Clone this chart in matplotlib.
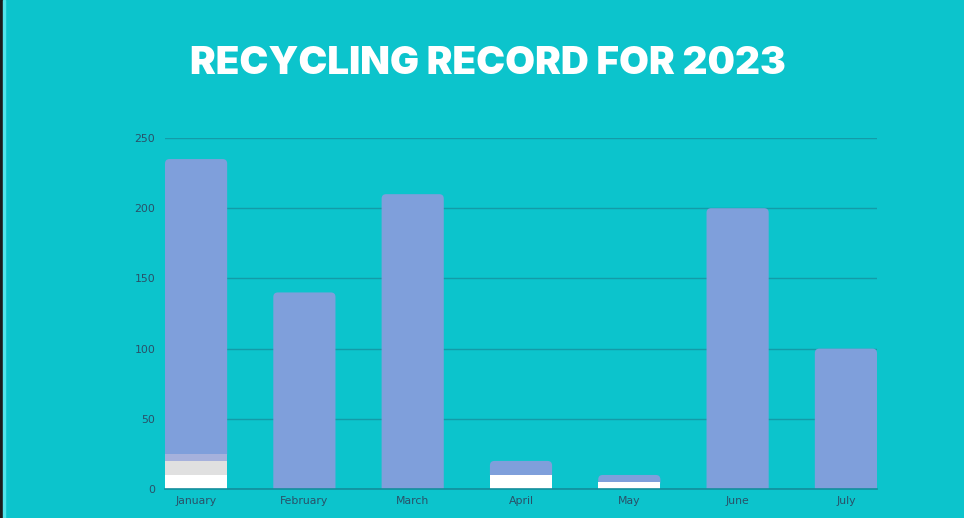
import numpy as np
import matplotlib
matplotlib.use("Agg")
import matplotlib.pyplot as plt
from matplotlib.patches import FancyBboxPatch, Rectangle

# data
months = ["January", "February", "March", "April", "May", "June", "July"]
white_part = [10, 0, 0, 10, 5, 0, 0]
grey_part = [10, 0, 0, 0, 0, 0, 0]
lavender_part = [5, 0, 0, 0, 0, 0, 0]
blue_part = [210, 140, 210, 10, 5, 200, 100]
y_ticks = [0, 50, 100, 150, 200, 250]

BG = "#0cc4cc"
BLUE = "#7f9fdb"
LAVENDER = "#a6b1dc"
GREY = "#e0e0e0"
WHITE = "#ffffff"
GRID = "#139ba8"
TXT = "#2a5068"

fig = plt.figure(figsize=(9.64, 5.18), dpi=100)
fig.patch.set_facecolor(BG)

# dark strip on the left edge
fig.patches.append(Rectangle((0, 0), 3 / 964, 1, transform=fig.transFigure,
                             color="#1b1b1b", zorder=10))
fig.patches.append(Rectangle((3 / 964, 0), 1.5 / 964, 1, transform=fig.transFigure,
                             color="#4fe3ea", zorder=10))

ax = fig.add_axes([165 / 964, 1 - 489 / 518, 712 / 964, 351 / 518])
ax.set_facecolor(BG)

x = np.arange(len(months))
width = 0.574
ax.set_xlim(-width / 2, len(months) - 1 + width / 2)
ax.set_ylim(0, 250)

# lower stacked segments
base = np.zeros(len(months))
for vals, col in [(white_part, WHITE), (grey_part, GREY), (lavender_part, LAVENDER)]:
    vals = np.array(vals, dtype=float)
    ax.bar(x, vals, width, bottom=base, color=col, zorder=3, linewidth=0)
    base = base + vals

# top segment with rounded top corners (bottom corners hidden below)
px_x = 712 / (ax.get_xlim()[1] - ax.get_xlim()[0])
px_y = 351 / 250
r = 4.5
rx = r / px_x
aspect = (r / px_y) / rx
for xi, b, h in zip(x, base, blue_part):
    ext = r / px_y
    p = FancyBboxPatch((xi - width / 2, b - ext), width, h + ext,
                       boxstyle=f"round,pad=0,rounding_size={rx}",
                       mutation_aspect=aspect, facecolor=BLUE, edgecolor="none",
                       zorder=2)
    ax.add_patch(p)

ax.set_yticks(y_ticks)
ax.set_xticks(x)
ax.set_xticklabels(months)
ax.grid(axis="y", color=GRID, linewidth=1, zorder=1)
ax.set_axisbelow(True)
for s in ["top", "right", "left"]:
    ax.spines[s].set_visible(False)
ax.spines["bottom"].set_color("#138e9c")
ax.spines["bottom"].set_linewidth(1.2)
ax.spines["bottom"].set_zorder(5)
ax.tick_params(axis="both", length=0, labelsize=7.8, colors=TXT)
ax.tick_params(axis="y", pad=7)
ax.tick_params(axis="x", pad=5)

fig.text(488 / 964, 1 - 64 / 518, "RECYCLING RECORD FOR 2023", ha="center",
         va="center", fontsize=27.8, color="white", fontweight="black",
         family=["Inter", "DejaVu Sans"])

fig.savefig("out.png", dpi=100, facecolor=BG)
